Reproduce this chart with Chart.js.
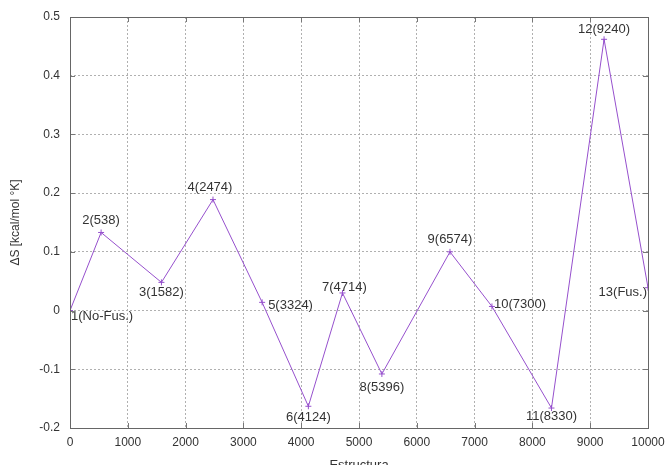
<!DOCTYPE html>
<html>
<head>
<meta charset="utf-8">
<script src="https://cdn.jsdelivr.net/npm/chart.js@4"></script>
<style>
  html, body { margin: 0; padding: 0; background: #fff; }
  #wrap { width: 665px; height: 465px; }
</style>
</head>
<body>
<div id="wrap"><canvas id="chart"></canvas></div>
<script>
// Estructuras y variación de entropía
const structX = [0, 538, 1582, 2474, 3324, 4124, 4714, 5396, 6574, 7300, 8330, 9240, 10000];
const deltaS = [0.0, 0.133, 0.048, 0.189, 0.014, -0.163, 0.030, -0.108, 0.100, 0.007, -0.166, 0.462, 0.039];
const pointNames = ['1(No-Fus.)', '2(538)', '3(1582)', '4(2474)', '5(3324)', '6(4124)', '7(4714)',
                    '8(5396)', '9(6574)', '10(7300)', '11(8330)', '12(9240)', '13(Fus.)'];
const xTicks = [0, 1000, 2000, 3000, 4000, 5000, 6000, 7000, 8000, 9000, 10000];
const yTicks = [-0.2, -0.1, 0, 0.1, 0.2, 0.3, 0.4, 0.5];

// colocación de cada etiqueta respecto a su punto: [alineación, dx, dy]
const labelPlace = [
    ['left', 1, 6], ['center', 0, -12], ['center', 0, 10], ['center', -3, -12],
    ['left', 6, 3], ['center', 0, 11], ['center', 2, -6], ['center', 0, 13],
    ['center', 0, -12], ['left', 2, -2], ['center', 0, 8], ['center', 0, -10],
    ['right', -1, 5]
];

const FONT = '"Liberation Sans", Arial, sans-serif';
const LINE_COLOR = 'rgb(150, 80, 205)';

const pointLabels = {
    id: 'pointLabels',
    afterDatasetsDraw(chart) {
        const ctx = chart.ctx;
        const xs = chart.scales.x, ys = chart.scales.y;
        ctx.save();
        ctx.font = '13px ' + FONT;
        ctx.fillStyle = '#333';
        ctx.textBaseline = 'middle';
        pointNames.forEach((name, i) => {
            const p = labelPlace[i];
            ctx.textAlign = p[0];
            ctx.fillText(name, xs.getPixelForValue(structX[i]) + p[1], ys.getPixelForValue(deltaS[i]) + p[2]);
        });
        ctx.restore();
    }
};

// marco y marcas interiores al estilo gnuplot
const frameTicks = {
    id: 'frameTicks',
    afterDraw(chart) {
        const ctx = chart.ctx;
        const a = chart.chartArea;
        const xs = chart.scales.x, ys = chart.scales.y;
        const len = 5;
        ctx.save();
        ctx.strokeStyle = '#777';
        ctx.lineWidth = 1;
        ctx.beginPath();
        xTicks.forEach(v => {
            const x = Math.round(xs.getPixelForValue(v)) + 0.5;
            ctx.moveTo(x, a.bottom); ctx.lineTo(x, a.bottom - len);
            ctx.moveTo(x, a.top); ctx.lineTo(x, a.top + len);
        });
        yTicks.forEach(v => {
            const y = Math.round(ys.getPixelForValue(v)) + 0.5;
            ctx.moveTo(a.left, y); ctx.lineTo(a.left + len, y);
            ctx.moveTo(a.right, y); ctx.lineTo(a.right - len, y);
        });
        ctx.stroke();
        ctx.strokeStyle = '#666';
        ctx.strokeRect(Math.round(a.left) + 0.5, Math.round(a.top) + 0.5,
                       Math.round(a.right - a.left), Math.round(a.bottom - a.top));
        ctx.restore();
    }
};

new Chart(document.getElementById('chart'), {
    type: 'line',
    data: {
        datasets: [{
            data: structX.map((x, i) => ({ x: x, y: deltaS[i] })),
            borderColor: LINE_COLOR,
            backgroundColor: LINE_COLOR,
            borderWidth: 1,
            pointStyle: 'cross',
            pointRadius: 3,
            pointBorderWidth: 1,
            tension: 0,
            fill: false
        }]
    },
    options: {
        responsive: true,
        maintainAspectRatio: false,
        animation: false,
        layout: { padding: { top: 17, right: 17, left: 0, bottom: 0 } },
        plugins: {
            legend: { display: false },
            tooltip: { enabled: false }
        },
        scales: {
            x: {
                type: 'linear',
                min: 0,
                max: 10000,
                afterBuildTicks: s => { s.ticks = xTicks.map(v => ({ value: v })); },
                afterFit: s => { s.height = 37; s.paddingLeft = 0; s.paddingRight = 0; },
                border: { display: false, dash: [2, 2] },
                grid: { color: '#b0b0b0', drawTicks: false },
                ticks: {
                    padding: 7, color: '#333', font: { family: FONT, size: 12 }, maxRotation: 0,
                    callback: v => String(v)
                },
                title: { display: true, text: 'Estructura', color: '#333', font: { family: FONT, size: 13 }, padding: { top: 0, bottom: -8 } }
            },
            y: {
                type: 'linear',
                min: -0.2,
                max: 0.5,
                afterBuildTicks: s => { s.ticks = yTicks.map(v => ({ value: v })); },
                afterFit: s => { s.width = 70; s.paddingTop = 0; s.paddingBottom = 0; },
                border: { display: false, dash: [2, 2] },
                grid: { color: '#b0b0b0', drawTicks: false },
                ticks: {
                    padding: 10, color: '#333', font: { family: FONT, size: 12 },
                    callback: v => String(Math.round(v * 10) / 10)
                },
                title: { display: true, text: 'ΔS [kcal/mol °K]', color: '#333', font: { family: FONT, size: 12 }, padding: { top: 8, bottom: 2 } }
            }
        }
    },
    plugins: [pointLabels, frameTicks]
});
</script>
</body>
</html>
